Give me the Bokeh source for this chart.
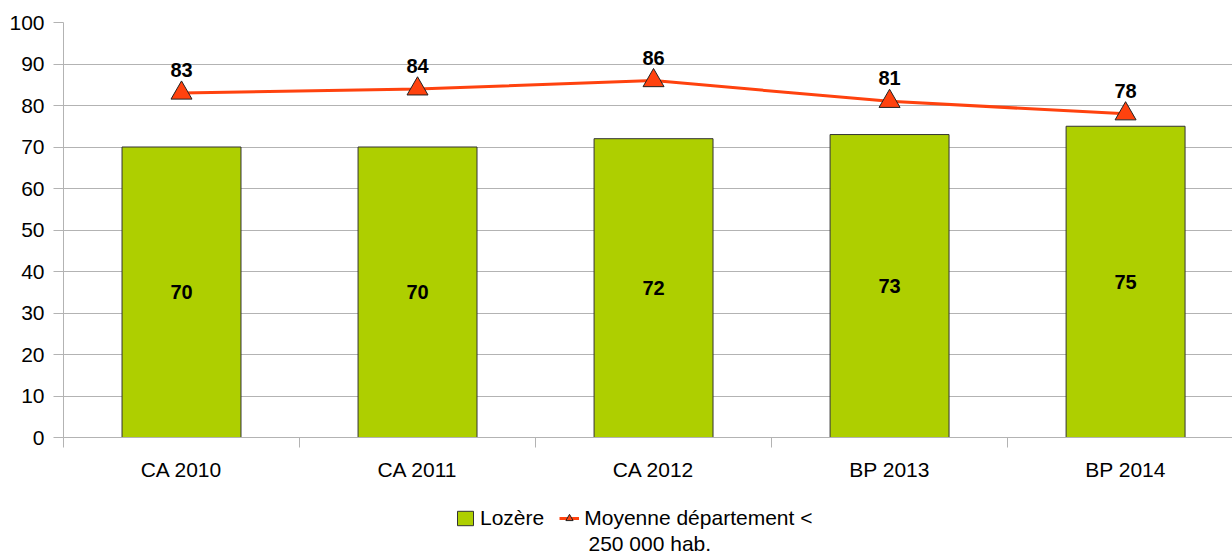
from bokeh.plotting import figure
from bokeh.layouts import column
from bokeh.models import (ColumnDataSource, Range1d, FixedTicker, Legend,
                          LegendItem, Label)
from bokeh.core.properties import value
from bokeh.embed import file_html
from bokeh.resources import INLINE

categories = ["CA 2010", "CA 2011", "CA 2012", "BP 2013", "BP 2014"]
lozere = [70, 70, 72, 73, 75]
moyenne = [83, 84, 86, 81, 78]
y_ticks = [0, 10, 20, 30, 40, 50, 60, 70, 80, 90, 100]
series_names = ["Lozère", "Moyenne département <", "250 000 hab."]

FONT = "Liberation Sans"
GRAY = "#b3b3b3"
GREEN = "#aecf00"
ORANGE = "#ff420e"
FS = "21px"
LEFT = 63

xs = [i + 0.5 for i in range(len(categories))]
src = ColumnDataSource(dict(
    x=xs,
    cat=categories,
    loz=lozere,
    loz_mid=[v / 2 for v in lozere],
    loz_txt=[str(v) for v in lozere],
    moy=moyenne,
    moy_txt=[str(v) for v in moyenne],
))

p = figure(width=1232, height=490, output_backend="svg", toolbar_location=None,
           x_range=Range1d(0, 4.953), y_range=Range1d(0, 100),
           min_border_left=LEFT, min_border_right=0, min_border_top=22,
           min_border_bottom=53)
p.outline_line_color = None
p.background_fill_color = "white"

bar_style = dict(fill_color=GREEN, line_color="#333333", line_width=1)
line_style = dict(line_color=ORANGE, line_width=3)

p.vbar(x="x", top="loz", width=0.504, source=src, **bar_style)
p.line(x="x", y="moy", source=src, **line_style)
p.scatter(x="x", y="moy", source=src, marker="triangle", size=21,
          fill_color=ORANGE, line_color="#222222", line_width=1)

p.text(x="x", y="loz_mid", text="loz_txt", source=src, text_align="center",
       text_baseline="middle", text_font=value(FONT), text_font_style="bold",
       text_font_size="20px", text_color="black")
p.text(x="x", y="moy", text="moy_txt", source=src, text_align="center",
       text_baseline="middle", y_offset=-23, text_font=value(FONT),
       text_font_style="bold", text_font_size="20px", text_color="black")

# axes
p.xgrid.visible = False
p.ygrid.grid_line_color = GRAY
p.ygrid.ticker = FixedTicker(ticks=y_ticks)

ya = p.yaxis[0]
ya.ticker = FixedTicker(ticks=y_ticks, minor_ticks=[])
ya.axis_line_color = GRAY
ya.major_tick_line_color = GRAY
ya.major_tick_out = 10
ya.major_tick_in = 0
ya.minor_tick_line_color = None
ya.major_label_standoff = 9
ya.major_label_text_font = FONT
ya.major_label_text_font_size = FS
ya.major_label_text_color = "black"

xa = p.xaxis[0]
xa.ticker = FixedTicker(ticks=xs, minor_ticks=list(range(len(categories) + 1)))
overrides = {}
for xv, c in zip(xs, categories):
    overrides[xv] = c
    overrides[str(xv)] = c
xa.major_label_overrides = overrides
xa.axis_line_color = GRAY
xa.major_tick_out = 0
xa.major_tick_in = 0
xa.major_tick_line_color = None
xa.minor_tick_out = 10
xa.minor_tick_in = 0
xa.minor_tick_line_color = GRAY
xa.major_label_standoff = 10
xa.major_label_text_font = FONT
xa.major_label_text_font_size = FS
xa.major_label_text_color = "black"

# legend strip
p2 = figure(width=1232, height=65, output_backend="svg", toolbar_location=None,
            x_range=Range1d(0, 1), y_range=Range1d(0, 1),
            min_border_left=LEFT, min_border_right=0,
            min_border_top=0, min_border_bottom=0)
p2.axis.visible = False
p2.grid.visible = False
p2.outline_line_color = None

# one off-screen sample each so the legend swatches get their styles
proxy = ColumnDataSource(dict(x=[5], y=[5], top=[5]))
lb = p2.vbar(x="x", top="top", width=0.1, source=proxy, **bar_style)
ll = p2.line(x="x", y="y", source=proxy, **line_style)
lt = p2.scatter(x="x", y="y", source=proxy, marker="triangle", size=15,
                fill_color=ORANGE, line_color="#222222", line_width=1)

legend = Legend(items=[LegendItem(label=series_names[0], renderers=[lb]),
                       LegendItem(label=series_names[1], renderers=[ll, lt])],
                orientation="horizontal", location=(455 - LEFT, 25),
                label_text_font=FONT, label_text_font_size=FS,
                label_text_color="black",
                glyph_width=20, glyph_height=18, label_standoff=5,
                spacing=15, padding=0, margin=0,
                border_line_color=None, background_fill_alpha=0)
p2.add_layout(legend, "center")

p2.add_layout(Label(x=588 - LEFT, y=12, x_units="screen", y_units="screen",
                    text=series_names[2], text_font=FONT, text_font_size=FS,
                    text_color="black", text_baseline="alphabetic"))

layout = column(p, p2, spacing=0)
open("out.html", "w").write(file_html(layout, INLINE))
